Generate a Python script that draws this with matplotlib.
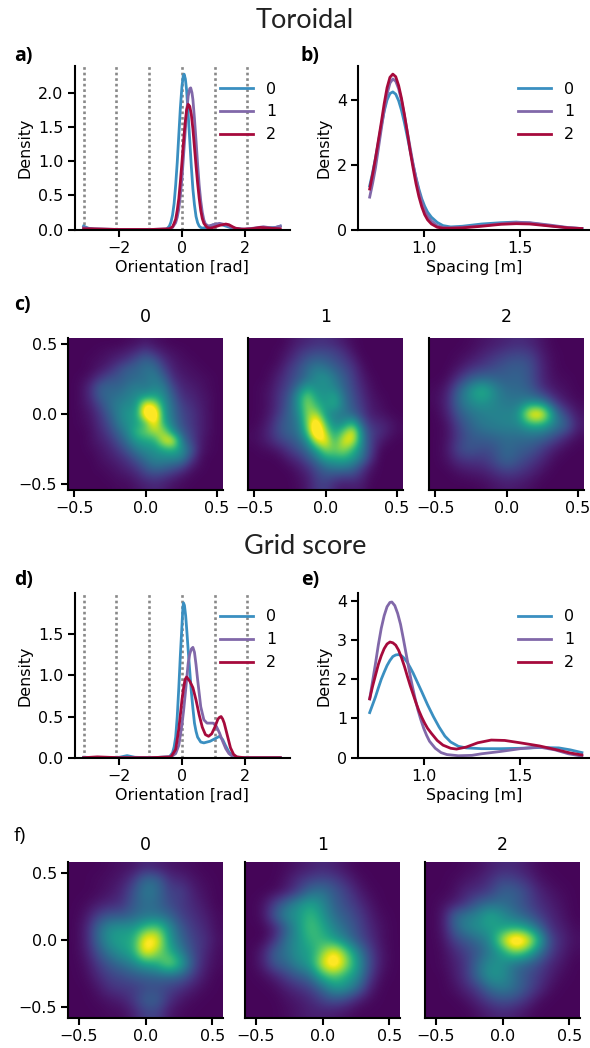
import numpy as np
from matplotlib import pyplot as plt

W, H = 590, 1048
colors = ['#3a8fc1', '#8168a9', '#a60a3c']
labels = ['0', '1', '2']
hex_angles = [-3.14, -2.09, -1.05, 0.0, 1.05, 2.09]

# Toroidal, orientation
a0_x = [-3.14, -3.0, -2.8, -2.0, -1.0, -0.5, -0.4, -0.35, -0.3, -0.25, -0.2, -0.15, -0.1, -0.05, 0.0, 0.04, 0.07, 0.11, 0.15, 0.2, 0.25, 0.3, 0.35, 0.4, 0.45, 0.5, 0.55, 0.6, 0.65, 0.8, 1.0, 1.2, 1.4, 1.6, 2.0, 2.5, 3.0, 3.14]
a0_y = [0.05, 0.02, 0.005, 0.0, 0.0, 0.0, 0.05, 0.11, 0.21, 0.38, 0.65, 0.98, 1.38, 1.78, 2.09, 2.24, 2.27, 2.2, 2.03, 1.68, 1.3, 0.92, 0.59, 0.36, 0.19, 0.1, 0.05, 0.03, 0.02, 0.03, 0.07, 0.08, 0.05, 0.02, 0.0, 0.02, 0.03, 0.05]
a1_x = [-3.14, -2.9, -2.0, -1.0, -0.4, -0.3, -0.2, -0.15, -0.1, -0.05, 0.0, 0.05, 0.1, 0.15, 0.2, 0.25, 0.28, 0.32, 0.35, 0.4, 0.45, 0.5, 0.55, 0.6, 0.65, 0.7, 0.75, 0.85, 1.0, 1.2, 1.4, 1.6, 1.8, 2.0, 2.3, 2.6, 2.9, 3.14]
a1_y = [0.03, 0.01, 0.0, 0.0, 0.01, 0.03, 0.1, 0.18, 0.3, 0.5, 0.75, 1.07, 1.4, 1.72, 1.95, 2.06, 2.07, 2.0, 1.9, 1.62, 1.3, 0.96, 0.65, 0.42, 0.25, 0.14, 0.08, 0.05, 0.07, 0.09, 0.07, 0.03, 0.01, 0.005, 0.02, 0.04, 0.02, 0.05]
a2_x = [-3.14, -2.9, -2.0, -1.0, -0.4, -0.3, -0.25, -0.2, -0.15, -0.1, -0.05, 0.0, 0.05, 0.1, 0.15, 0.2, 0.25, 0.3, 0.35, 0.4, 0.45, 0.5, 0.55, 0.6, 0.65, 0.7, 0.8, 0.9, 1.0, 1.2, 1.4, 1.5, 1.7, 1.9, 2.2, 2.5, 2.8, 3.14]
a2_y = [0.01, 0.01, 0.0, 0.0, 0.01, 0.04, 0.09, 0.15, 0.28, 0.45, 0.7, 0.98, 1.28, 1.55, 1.75, 1.83, 1.8, 1.68, 1.47, 1.2, 0.93, 0.68, 0.46, 0.28, 0.16, 0.09, 0.03, 0.02, 0.03, 0.06, 0.08, 0.07, 0.02, 0.005, 0.01, 0.03, 0.02, 0.01]

# Toroidal, spacing
b_x = [0.72, 0.735, 0.75, 0.765, 0.78, 0.795, 0.81, 0.825, 0.84, 0.855, 0.87, 0.885, 0.9, 0.915, 0.93, 0.945, 0.96, 0.975, 0.99, 1.005, 1.02, 1.04, 1.07, 1.10, 1.14, 1.2, 1.3, 1.4, 1.48, 1.55, 1.65, 1.75, 1.82]
b0_y = [1.35, 1.75, 2.2, 2.7, 3.2, 3.65, 4.0, 4.2, 4.25, 4.18, 3.98, 3.68, 3.3, 2.87, 2.43, 2.0, 1.6, 1.25, 0.95, 0.72, 0.54, 0.38, 0.22, 0.12, 0.08, 0.1, 0.17, 0.21, 0.23, 0.2, 0.12, 0.05, 0.03]
b1_y = [1.0, 1.42, 1.9, 2.5, 3.1, 3.68, 4.18, 4.52, 4.65, 4.58, 4.35, 3.98, 3.52, 3.02, 2.52, 2.02, 1.58, 1.18, 0.85, 0.6, 0.42, 0.26, 0.12, 0.06, 0.05, 0.07, 0.12, 0.18, 0.22, 0.21, 0.14, 0.06, 0.03]
b2_y = [1.25, 1.7, 2.2, 2.75, 3.3, 3.88, 4.38, 4.7, 4.8, 4.72, 4.45, 4.05, 3.55, 3.0, 2.42, 1.9, 1.42, 1.02, 0.7, 0.46, 0.3, 0.17, 0.07, 0.04, 0.04, 0.05, 0.1, 0.16, 0.18, 0.17, 0.11, 0.05, 0.03]

# Grid score, orientation
d0_x = [-3.14, -2.5, -2.0, -1.75, -1.5, -1.0, -0.4, -0.3, -0.25, -0.2, -0.15, -0.1, -0.05, 0.0, 0.03, 0.05, 0.08, 0.12, 0.16, 0.2, 0.25, 0.3, 0.35, 0.4, 0.45, 0.5, 0.6, 0.7, 0.8, 0.9, 1.0, 1.1, 1.2, 1.3, 1.4, 1.5, 1.6, 1.7, 1.9, 3.14]
d0_y = [0.005, 0.0, 0.005, 0.025, 0.005, 0.0, 0.01, 0.06, 0.13, 0.25, 0.5, 0.85, 1.25, 1.6, 1.82, 1.88, 1.85, 1.72, 1.52, 1.3, 1.05, 0.8, 0.6, 0.42, 0.32, 0.25, 0.19, 0.18, 0.19, 0.2, 0.22, 0.24, 0.26, 0.22, 0.14, 0.07, 0.03, 0.01, 0.0, 0.0]
d1_x = [-3.14, -2.0, -1.0, -0.35, -0.2, -0.1, 0.0, 0.05, 0.1, 0.15, 0.2, 0.25, 0.3, 0.35, 0.4, 0.45, 0.5, 0.6, 0.7, 0.8, 0.9, 1.0, 1.1, 1.2, 1.3, 1.4, 1.5, 1.6, 1.8, 3.14]
d1_y = [0.0, 0.0, 0.0, 0.01, 0.05, 0.15, 0.4, 0.56, 0.75, 0.95, 1.15, 1.26, 1.32, 1.34, 1.28, 1.13, 0.95, 0.62, 0.46, 0.42, 0.42, 0.42, 0.38, 0.3, 0.2, 0.11, 0.05, 0.02, 0.0, 0.0]
d2_x = [-3.14, -2.7, -2.0, -1.0, -0.35, -0.2, -0.1, 0.0, 0.05, 0.1, 0.15, 0.25, 0.35, 0.45, 0.55, 0.65, 0.75, 0.85, 0.95, 1.05, 1.15, 1.2, 1.25, 1.3, 1.35, 1.45, 1.55, 1.65, 1.75, 2.0, 3.14]
d2_y = [0.0, 0.01, 0.0, 0.0, 0.01, 0.1, 0.35, 0.7, 0.84, 0.95, 0.98, 0.93, 0.85, 0.7, 0.52, 0.37, 0.28, 0.26, 0.29, 0.37, 0.47, 0.49, 0.5, 0.47, 0.42, 0.27, 0.12, 0.04, 0.01, 0.0, 0.0]

# Grid score, spacing
e0_x = [0.72, 0.735, 0.75, 0.765, 0.78, 0.795, 0.81, 0.825, 0.84, 0.855, 0.87, 0.885, 0.9, 0.915, 0.93, 0.945, 0.96, 0.99, 1.02, 1.05, 1.08, 1.11, 1.14, 1.18, 1.22, 1.3, 1.4, 1.5, 1.6, 1.7, 1.76, 1.82]
e0_y = [1.15, 1.35, 1.55, 1.78, 2.0, 2.18, 2.35, 2.48, 2.58, 2.62, 2.63, 2.6, 2.53, 2.43, 2.3, 2.16, 2.0, 1.68, 1.35, 1.05, 0.78, 0.55, 0.4, 0.29, 0.25, 0.23, 0.23, 0.24, 0.26, 0.25, 0.2, 0.13]
e1_x = [0.72, 0.735, 0.75, 0.765, 0.78, 0.795, 0.81, 0.825, 0.835, 0.85, 0.865, 0.88, 0.895, 0.91, 0.925, 0.94, 0.955, 0.97, 0.985, 1.0, 1.015, 1.03, 1.06, 1.09, 1.12, 1.18, 1.25, 1.3, 1.4, 1.5, 1.6, 1.68, 1.75, 1.82]
e1_y = [1.5, 1.95, 2.4, 2.88, 3.3, 3.62, 3.85, 3.96, 3.97, 3.88, 3.68, 3.4, 3.02, 2.62, 2.22, 1.85, 1.52, 1.22, 0.97, 0.75, 0.57, 0.42, 0.24, 0.13, 0.08, 0.05, 0.06, 0.1, 0.16, 0.23, 0.27, 0.2, 0.1, 0.04]
e2_x = [0.72, 0.735, 0.75, 0.765, 0.78, 0.795, 0.81, 0.825, 0.84, 0.855, 0.87, 0.885, 0.9, 0.915, 0.93, 0.945, 0.96, 0.975, 0.99, 1.005, 1.02, 1.04, 1.07, 1.1, 1.14, 1.17, 1.22, 1.28, 1.35, 1.42, 1.5, 1.6, 1.7, 1.76, 1.82]
e2_y = [1.5, 1.82, 2.1, 2.38, 2.6, 2.78, 2.9, 2.95, 2.93, 2.87, 2.74, 2.55, 2.33, 2.08, 1.84, 1.62, 1.4, 1.2, 1.03, 0.88, 0.75, 0.62, 0.44, 0.32, 0.24, 0.22, 0.27, 0.38, 0.45, 0.44, 0.38, 0.3, 0.19, 0.12, 0.07]

# density maps, rows from top to bottom
c0_map = [[1,1,1,1,1,1,2,3,5,3,2,1,1,1,1,1,1],
          [1,1,1,2,3,4,6,9,14,9,5,3,2,1,1,1,1],
          [1,1,2,3,5,8,12,18,24,20,10,5,3,2,1,1,1],
          [1,1,2,5,9,16,22,24,28,28,16,7,4,3,2,1,1],
          [1,2,5,12,18,20,24,26,28,32,24,10,6,4,3,2,1],
          [1,3,10,22,24,24,28,32,30,34,32,16,8,6,4,2,1],
          [1,3,10,22,26,28,32,36,40,44,36,22,10,8,5,3,1],
          [1,3,7,16,26,32,36,38,82,72,40,26,14,10,6,3,1],
          [1,2,5,12,22,32,40,42,90,95,42,28,16,12,7,3,1],
          [1,2,4,10,18,30,38,42,52,82,46,30,18,12,7,3,1],
          [1,1,3,8,14,24,34,50,58,66,66,38,22,14,7,3,1],
          [1,1,3,6,10,18,28,40,44,46,72,78,30,16,6,2,1],
          [1,1,2,4,7,12,20,30,36,38,44,48,38,22,5,2,1],
          [1,1,1,3,5,8,12,20,28,34,34,34,32,14,3,1,1],
          [1,1,1,2,3,5,8,12,20,26,24,20,14,5,2,1,1],
          [1,1,1,1,2,3,4,7,12,14,12,8,4,2,1,1,1],
          [1,1,1,1,1,2,2,4,6,8,6,3,2,1,1,1,1]]
c1_map = [[1,1,1,1,3,6,8,10,10,8,5,2,1,1,1,1,1],
          [1,1,1,2,5,10,14,16,16,14,10,4,1,1,1,1,1],
          [1,1,1,3,8,14,20,24,22,18,14,8,2,1,1,1,1],
          [1,1,2,5,12,18,26,32,30,24,18,12,4,1,1,1,1],
          [1,1,3,8,14,20,28,36,38,30,22,14,6,2,1,1,1],
          [1,2,4,10,16,28,42,36,38,34,24,16,8,3,1,1,1],
          [1,2,5,12,20,38,60,42,38,44,28,18,10,4,2,1,1],
          [1,2,5,12,22,38,64,50,40,46,30,20,12,5,3,1,1],
          [1,2,6,14,24,34,62,68,40,32,30,24,14,6,4,2,1],
          [1,3,8,18,24,30,60,92,52,34,36,48,22,10,8,5,2],
          [2,4,10,18,24,28,52,100,66,42,58,78,32,14,10,5,2],
          [2,4,8,14,18,24,36,72,80,48,74,74,34,14,6,2,1],
          [1,2,3,6,12,18,26,42,62,58,64,50,32,14,2,1,1],
          [1,1,1,2,6,10,18,28,42,44,46,40,28,10,1,1,1],
          [1,1,1,1,2,5,10,18,26,30,30,26,14,4,1,1,1],
          [1,1,1,1,1,3,6,14,18,16,14,14,8,2,1,1,1],
          [1,1,1,1,1,2,5,12,14,8,5,6,5,1,1,1,1]]
c2_map = [[1,1,1,2,4,6,8,10,8,4,1,1,1],
          [1,1,2,4,8,12,16,18,16,6,2,1,1],
          [1,1,4,10,14,18,22,24,20,8,2,1,1],
          [1,2,12,24,28,26,24,26,20,8,3,2,1],
          [2,6,26,42,54,38,28,28,24,12,5,3,1],
          [2,8,28,38,42,36,32,32,36,34,14,5,2],
          [1,6,22,30,34,36,36,38,92,92,36,16,4],
          [1,3,16,26,32,34,36,36,45,45,34,26,6],
          [1,3,14,22,24,26,28,28,28,26,18,8,2],
          [1,4,18,22,18,20,28,24,22,14,6,2,1],
          [1,3,10,12,12,18,26,20,14,8,2,1,1],
          [1,1,3,5,6,10,14,12,8,3,1,1,1],
          [1,1,1,1,2,4,6,5,3,1,1,1,1]]
f0_map = [[1,1,1,2,3,4,8,6,4,3,2,1,1],
          [1,1,2,3,5,12,26,24,10,8,4,2,1],
          [1,1,2,4,8,18,30,26,14,14,6,3,1],
          [1,2,5,8,10,20,26,24,16,12,8,4,1],
          [1,4,14,20,20,24,28,28,24,14,10,6,2],
          [1,6,24,36,38,38,50,56,36,20,12,8,2],
          [1,6,24,38,42,44,80,75,38,24,14,10,3],
          [1,5,18,30,38,44,78,60,46,30,16,8,2],
          [1,3,12,20,26,32,40,44,62,44,18,6,2],
          [1,2,8,14,16,20,22,24,24,22,12,4,1],
          [1,1,4,10,12,12,16,16,14,10,5,2,1],
          [1,1,2,4,6,12,22,22,10,4,2,1,1],
          [1,1,1,2,2,6,14,14,4,2,1,1,1]]
f1_map = [[1,1,1,2,4,6,8,6,3,1,1,1,1],
          [1,1,1,4,10,14,16,14,8,3,1,1,1],
          [1,1,2,6,14,26,28,20,14,6,2,1,1],
          [1,3,14,26,36,42,34,22,16,10,4,1,1],
          [1,3,20,34,38,50,38,26,20,14,6,2,1],
          [1,1,6,22,38,52,44,32,24,16,8,3,1],
          [1,1,10,28,36,48,48,40,30,18,10,3,1],
          [1,6,22,28,38,40,58,76,55,32,14,4,1],
          [1,6,20,24,34,40,70,85,62,38,16,4,1],
          [1,2,6,14,20,26,46,54,44,34,12,2,1],
          [1,1,2,6,10,14,24,38,36,24,6,1,1],
          [1,1,1,3,5,8,14,18,14,6,2,1,1],
          [1,1,1,2,4,6,6,5,3,1,1,1,1]]
f2_map = [[1,1,1,2,3,6,8,8,5,2,1,1,1],
          [1,1,2,4,6,10,16,14,10,4,2,1,1],
          [1,1,3,8,10,14,22,22,16,8,4,2,1],
          [1,3,6,12,22,26,26,22,16,10,6,3,1],
          [1,4,24,30,34,44,36,28,22,14,8,4,1],
          [1,4,22,32,36,40,40,44,40,26,10,6,2],
          [1,3,14,20,26,34,66,92,80,48,16,8,3],
          [1,2,8,14,20,30,40,58,50,30,14,6,2],
          [1,2,6,12,26,36,36,26,22,16,8,4,1],
          [1,1,5,12,26,38,36,26,18,12,6,2,1],
          [1,1,3,8,14,26,30,26,18,10,3,1,1],
          [1,1,1,3,8,14,18,16,10,3,1,1,1],
          [1,1,1,1,3,6,8,6,3,1,1,1,1]]

plt.rcParams['font.family'] = 'DejaVu Sans'
plt.rcParams['font.size'] = 11.4
fig = plt.figure(figsize=(W / 100, H / 100), dpi=100)


def box(x0, y0, x1, y1):
    # pixel box of the reference, y counted from the top
    return fig.add_axes([x0 / W, 1 - y1 / H, (x1 - x0) / W, (y1 - y0) / H])


def style(ax):
    for s in ['top', 'right']:
        ax.spines[s].set_visible(False)
    for s in ['left', 'bottom']:
        ax.spines[s].set_linewidth(1.5)
    ax.tick_params(width=1.5, length=5, labelsize=11.4, pad=3)


def kde_panel(rect, curves, xlim, ylim, xticks, yticks, yticklabels, xlabel, legend_x, legend_y):
    ax = box(*rect)
    style(ax)
    if xlabel.startswith('Orientation'):
        for v in hex_angles:
            ax.axvline(v, color='#888888', ls=(0, (1, 1.1)), lw=1.9, zorder=1)
    for (x, y), c, lab in zip(curves, colors, labels):
        ax.plot(x, y, color=c, lw=2.0, label=lab, solid_joinstyle='round', zorder=2)
    ax.set_xlim(xlim)
    ax.set_ylim(ylim)
    ax.set_xticks(xticks)
    ax.set_yticks(yticks)
    ax.set_yticklabels(yticklabels)
    ax.set_xlabel(xlabel, labelpad=3)
    ax.set_ylabel('Density', labelpad=4)
    ax.legend(loc='upper left', bbox_to_anchor=(legend_x, legend_y), frameon=False, fontsize=11.4,
              handlelength=2.1, labelspacing=0.5, handletextpad=0.8, borderpad=0, borderaxespad=0)
    return ax


def map_panel(rect, data, lim, yvis, title, pad, vmax):
    ax = box(*rect)
    ax.imshow(data, cmap='viridis', vmin=0, vmax=vmax, interpolation='bicubic',
              extent=[-lim, lim, -lim, lim], aspect='auto')
    style(ax)
    ax.set_xticks([-0.5, 0.0, 0.5])
    ax.set_yticks([-0.5, 0.0, 0.5])
    ax.set_xticklabels(['\u22120.5', '0.0', '0.5'])
    ax.set_yticklabels(['\u22120.5', '0.0', '0.5'])
    if not yvis:
        ax.tick_params(left=False, labelleft=False)
    ax.set_title(title, fontsize=12.5, pad=pad)
    return ax


orient_ticks = [-2, 0, 2]
orient_ticklabels = ['\u22122', '0', '2']

ax = kde_panel((74.5, 66, 290, 229.5), [(a0_x, a0_y), (a1_x, a1_y), (a2_x, a2_y)], (-3.43, 3.45), (0, 2.39),
               orient_ticks, [0, 0.5, 1.0, 1.5, 2.0], ['0.0', '0.5', '1.0', '1.5', '2.0'],
               'Orientation [rad]', 0.675, 0.905)
ax.set_xticklabels(orient_ticklabels)
kde_panel((358.3, 66, 590, 229.5), [(b_x, b0_y), (b_x, b1_y), (b_x, b2_y)], (0.661, 1.862), (0, 5.05),
          [1.0, 1.5], [0, 2, 4], ['0', '2', '4'], 'Spacing [m]', 0.689, 0.905)
ax = kde_panel((74.5, 593, 290, 757.7), [(d0_x, d0_y), (d1_x, d1_y), (d2_x, d2_y)], (-3.43, 3.45), (0, 2.0),
               orient_ticks, [0, 0.5, 1.0, 1.5], ['0.0', '0.5', '1.0', '1.5'],
               'Orientation [rad]', 0.675, 0.9)
ax.set_xticklabels(orient_ticklabels)
kde_panel((358.3, 593, 590, 757.7), [(e0_x, e0_y), (e1_x, e1_y), (e2_x, e2_y)], (0.661, 1.862), (0, 4.2),
          [1.0, 1.5], [0, 1, 2, 3, 4], ['0', '1', '2', '3', '4'], 'Spacing [m]', 0.689, 0.9)

map_panel((68, 338, 223, 490), c0_map, 0.545, True, '0', 11.5, 75)
map_panel((248, 338, 403, 490), c1_map, 0.545, False, '1', 11.5, 75)
map_panel((429, 338, 584, 490), c2_map, 0.545, False, '2', 11.5, 80)
map_panel((68, 862, 223, 1018), f0_map, 0.58, True, '0', 9, 72)
map_panel((245, 862, 400, 1018), f1_map, 0.58, False, '1', 9, 72)
map_panel((425, 862, 580, 1018), f2_map, 0.58, False, '2', 9, 72)

fig.text(305 / W, 1 - 20 / H, 'Toroidal', family='Lato', fontsize=19.5, color='#222222', ha='center', va='center')
fig.text(305 / W, 1 - 546 / H, 'Grid score', family='Lato', fontsize=19.5, color='#222222', ha='center', va='center')
for lab, x, y, w in [('a)', 14, 56, 'bold'), ('b)', 301, 56, 'bold'), ('c)', 14, 305, 'bold'),
                     ('d)', 14, 580, 'bold'), ('e)', 301, 580, 'bold'), ('f)', 14, 836, 'normal')]:
    fig.text(x / W, 1 - y / H, lab, family='Open Sans', fontsize=14, fontweight=w, ha='left', va='center')

fig.savefig('out.png', dpi=100)
plt.close()
